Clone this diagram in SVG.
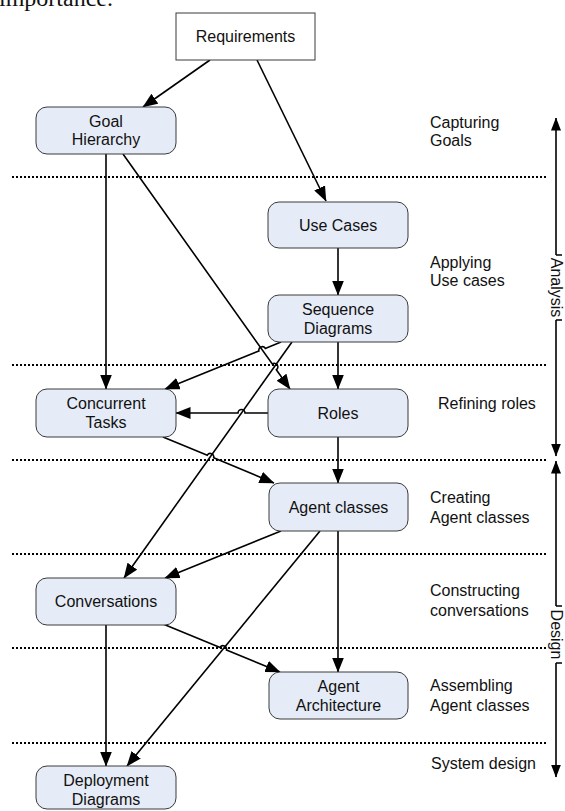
<svg xmlns="http://www.w3.org/2000/svg" width="565" height="811" viewBox="0 0 565 811">
<style>
.node{fill:#e6ecf7;stroke:#3a3a3a;stroke-width:1}
.req{fill:#ffffff;stroke:#3a3a3a;stroke-width:1}
.t{font-family:"Liberation Sans",Arial,sans-serif;font-size:16px;fill:#111}
.c{text-anchor:middle}
.conn{fill:none;stroke:#000;stroke-width:1.6;marker-end:url(#arr)}
.axis{fill:none;stroke:#000;stroke-width:1.6}
.dot{stroke:#000;stroke-width:2;stroke-dasharray:2 2}
</style>
<defs>
<marker id="arr" markerUnits="userSpaceOnUse" markerWidth="15" markerHeight="12" viewBox="0 0 15 12" refX="14.5" refY="6" orient="auto">
<path d="M0,0 L15,6 L0,12 z" fill="#000"/>
</marker>
<marker id="arr2" markerUnits="userSpaceOnUse" markerWidth="13" markerHeight="10" viewBox="0 0 13 10" refX="12.5" refY="5" orient="auto">
<path d="M0,0 L13,5 L0,10 z" fill="#000"/>
</marker>
</defs>
<text x="-1" y="6" style="font-family:'Liberation Serif','Times New Roman',serif;font-size:24px;fill:#111">importance.</text>
<g id="separators">
<line class="dot" x1="12" y1="177" x2="547" y2="177"/>
<line class="dot" x1="12" y1="365" x2="547" y2="365"/>
<line class="dot" x1="12" y1="460" x2="547" y2="460"/>
<line class="dot" x1="12" y1="554" x2="547" y2="554"/>
<line class="dot" x1="12" y1="648" x2="547" y2="648"/>
<line class="dot" x1="12" y1="743" x2="547" y2="743"/>
</g>
<g id="connectors">
<path class="conn" d="M210,60 L143,107"/>
<path class="conn" d="M257,60 L326,201"/>
<path class="conn" d="M338,248 L338,295"/>
<path class="conn" d="M106,154 L106,389"/>
<path class="conn" d="M123,154 L272.3,364 A3.5,3.5 0 0 1 276.3,369.8 L290,389"/>
<path class="conn" d="M281,342 L265.3,348.4 A3.5,3.5 0 0 0 258.9,351 L165,389"/>
<path class="conn" d="M292,342 L124,578"/>
<path class="conn" d="M338,342 L338,389"/>
<path class="conn" d="M268,413 L245,413 A3.5,3.5 0 0 0 238,413 L176,413"/>
<path class="conn" d="M163,437 L207.3,455.2 A3.5,3.5 0 0 1 213.7,457.8 L274,483"/>
<path class="conn" d="M338,437 L338,483"/>
<path class="conn" d="M281,531 L165,578"/>
<path class="conn" d="M320,531 L127,766"/>
<path class="conn" d="M338,531 L338,672"/>
<path class="conn" d="M106,625 L106,766"/>
<path class="conn" d="M163,624 L220.1,647.4 A3.5,3.5 0 0 1 226.5,650 L280,672"/>
</g>
<g id="req">
<rect class="req" x="176" y="13" width="139" height="47"/>
<text class="t c" x="245.5" y="42">Requirements</text>
</g>
<g id="goal">
<rect class="node" x="36" y="107" width="140" height="47" rx="11"/>
<text class="t c" x="106" y="126.5">Goal</text>
<text class="t c" x="106" y="145">Hierarchy</text>
</g>
<g id="usecases">
<rect class="node" x="268" y="202" width="140" height="46" rx="11"/>
<text class="t c" x="338" y="230.5">Use Cases</text>
</g>
<g id="sequence">
<rect class="node" x="268" y="295" width="140" height="47" rx="11"/>
<text class="t c" x="338" y="314.5">Sequence</text>
<text class="t c" x="338" y="333.5">Diagrams</text>
</g>
<g id="concurrent">
<rect class="node" x="36" y="389" width="140" height="48" rx="11"/>
<text class="t c" x="106" y="409">Concurrent</text>
<text class="t c" x="106" y="428">Tasks</text>
</g>
<g id="roles">
<rect class="node" x="268" y="389" width="140" height="48" rx="11"/>
<text class="t c" x="338" y="418.5">Roles</text>
</g>
<g id="agentclasses">
<rect class="node" x="269" y="483" width="139" height="48" rx="11"/>
<text class="t c" x="338.5" y="512.5">Agent classes</text>
</g>
<g id="conversations">
<rect class="node" x="36" y="578" width="140" height="47" rx="11"/>
<text class="t c" x="106" y="607">Conversations</text>
</g>
<g id="agentarch">
<rect class="node" x="269" y="672" width="139" height="47" rx="11"/>
<text class="t c" x="338.5" y="691.5">Agent</text>
<text class="t c" x="338.5" y="710.5">Architecture</text>
</g>
<g id="deployment">
<rect class="node" x="36" y="766" width="140" height="43" rx="11"/>
<text class="t c" x="106" y="785.5">Deployment</text>
<text class="t c" x="106" y="804.5">Diagrams</text>
</g>
<g id="phases">
<text class="t" x="430" y="127.5">Capturing</text>
<text class="t" x="430" y="145.5">Goals</text>
<text class="t" x="430" y="267.5">Applying</text>
<text class="t" x="430" y="285.5">Use cases</text>
<text class="t" x="438" y="408.5">Refining roles</text>
<text class="t" x="430" y="502.5">Creating</text>
<text class="t" x="430" y="522.5">Agent classes</text>
<text class="t" x="430" y="595.5">Constructing</text>
<text class="t" x="430" y="615.5">conversations</text>
<text class="t" x="430" y="690.5">Assembling</text>
<text class="t" x="430" y="710.5">Agent classes</text>
<text class="t" x="431" y="768.5">System design</text>
</g>
<g id="analysis-axis">
<path class="axis" d="M556,255 L556,118" marker-end="url(#arr2)"/>
<path class="axis" d="M556,320 L556,456" marker-end="url(#arr2)"/>
<path class="axis" d="M556,255 L562,255 M556,320 L562,320"/>
<text class="t c" transform="translate(550.5,287.5) rotate(90)">Analysis</text>
</g>
<g id="design-axis">
<path class="axis" d="M556,606 L556,461" marker-end="url(#arr2)"/>
<path class="axis" d="M556,663 L556,777" marker-end="url(#arr2)"/>
<path class="axis" d="M556,606 L562,606 M556,663 L562,663"/>
<text class="t c" transform="translate(550.5,634.5) rotate(90)">Design</text>
</g>
</svg>
